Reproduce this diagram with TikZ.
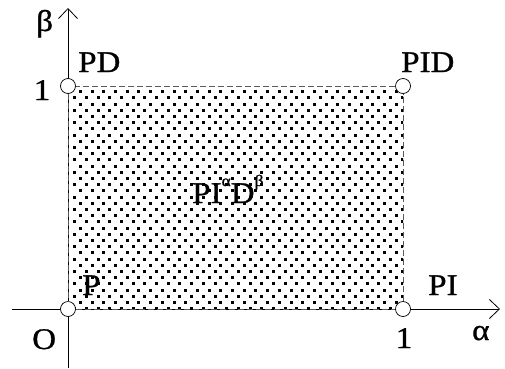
\documentclass[tikz,border=0pt]{standalone}
\usepackage{fontspec}
\setmainfont{Liberation Serif}
\newfontface\lblfont{Liberation Serif}[FakeBold=1]
\usetikzlibrary{arrows.meta}
\newcommand{\supr}[1]{\raisebox{17pt}{\fontsize{16}{16}\selectfont #1}}
\tikzset{
	corner/.style={circle,draw,fill=white,inner sep=0pt,minimum size=15pt,line width=0.7pt},
	lbl/.style={font=\lblfont\fontsize{30}{34}\selectfont,inner sep=0pt,anchor=base west,xscale=1.1,transform shape},
	axis/.style={line width=0.8pt,-{Straight Barb[length=10pt,width=19pt]}}
}
\begin{document}
\begin{tikzpicture}[x=1pt,y=1pt]
	\useasboundingbox (-68,-59) rectangle (437,309);
	% dotted region
	\begin{scope}
		\clip (0,0) rectangle (335,223);
		\foreach \j in {0,...,36}{
			\pgfmathsetmacro{\sx}{mod(\j,2)==0 ? 12 : 6.15}
			\pgfmathsetmacro{\dy}{round(216.7-6.2*\j)-1}
			\foreach \i in {0,...,29}{
				\pgfmathsetmacro{\dx}{round(\sx+11.7*\i)-1}
				\fill (\dx,\dy) rectangle +(3,3);
			}
		}
	\end{scope}
	% axes
	\coordinate (xs) at (-56,0);
	\coordinate (xe) at (432,0);
	\coordinate (ys) at (0,-59);
	\coordinate (ye) at (0,301);
	\draw[axis] (xs) -- (xe);
	\draw[axis] (ys) -- (ye);
	% corners
	\node[corner] (p) at (0,0) {};
	\node[corner] (pi) at (335,0) {};
	\node[corner] (pid) at (335,223) {};
	\node[corner] (pd) at (0,223) {};
	\draw[gray!70!black,line width=0.7pt,dash pattern=on 6pt off 3pt] (p) -- (pi) -- (pid) -- (pd) -- (p);
	% labels
	\node[lbl] (lb) at (-32,278) {β};
	\node[lbl] (la) at (404,-31) {α};
	\node[lbl] (lpd) at (10,237) {PD};
	\node[lbl] (lpid) at (333,237) {PID};
	\node[lbl] (lp) at (14,14) {P};
	\node[lbl] (lpi) at (360,14) {PI};
	\node[lbl] (lo) at (-36,-40) {O};
	\node[lbl,anchor=base] (l1x) at (336,-39) {1};
	\node[lbl,anchor=base] (l1y) at (-26,209) {1};
	\node[lbl] (lmid) at (124,106) {PI\supr{α}D\supr{β}};
\end{tikzpicture}
\end{document}
